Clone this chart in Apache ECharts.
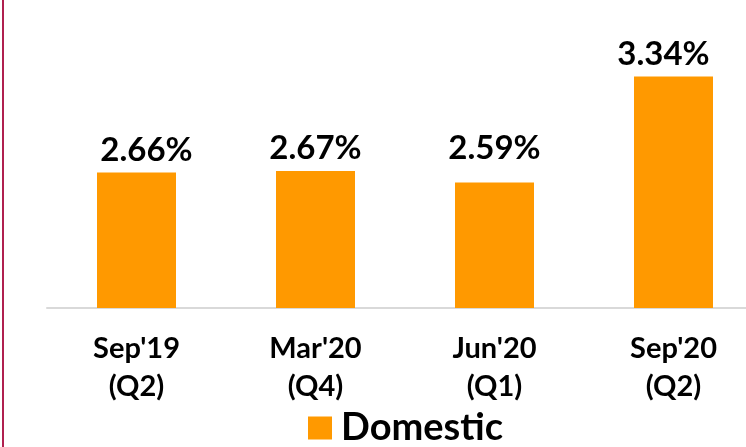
<!DOCTYPE html>
<html>
<head>
<meta charset="utf-8">
<script src="https://cdn.jsdelivr.net/npm/echarts@6/dist/echarts.min.js"></script>
<style>
    html, body { margin: 0; padding: 0; background: #fff; }
    #chart { width: 746px; height: 447px; }
</style>
</head>
<body>
<div id="chart"></div>
<script>
const categories = ["Sep'19\n(Q2)", "Mar'20\n(Q4)", "Jun'20\n(Q1)", "Sep'20\n(Q2)"];
const domestic = [2.66, 2.67, 2.59, 3.34];
// small nudges of the value labels, as in the source slide
const labelOffsets = [[10, 0], [0, 0], [0, -12], [-10, 0]];

const fontFamily = "Lato, 'Open Sans', sans-serif";

const chart = echarts.init(document.getElementById("chart"));

let option = {
    animation: false,
    backgroundColor: "#fff",
    grid: {left: 47, width: 716, top: 54, bottom: 139, outerBoundsMode: "none", containLabel: false},
    legend: {
        data: ["Domestic"],
        left: 303,
        top: 404,
        itemWidth: 24,
        itemHeight: 23,
        itemGap: 0,
        icon: "rect",
        textStyle: {fontFamily: fontFamily, fontSize: 38, fontWeight: "bold", color: "#000", padding: [0, 0, 0, 4]},
    },
    xAxis: {
        type: "category",
        data: categories,
        axisLine: {lineStyle: {color: "#d9d9d9", width: 2}},
        axisTick: {show: false},
        axisLabel: {
            margin: 22,
            fontFamily: fontFamily,
            fontSize: 29,
            fontWeight: "bold",
            color: "#000",
            lineHeight: 38,
        },
    },
    yAxis: {
        type: "value",
        min: 1.7,
        max: 3.5,
        show: false,
        splitLine: {show: false},
    },
    series: [
        {
            name: "Domestic",
            type: "bar",
            barWidth: 79,
            itemStyle: {color: "#ff9900"},
            data: domestic.map((v, i) => ({
                value: v,
                label: {offset: labelOffsets[i]},
            })),
            label: {
                show: true,
                position: "top",
                distance: 6,
                fontFamily: fontFamily,
                fontSize: 33,
                fontWeight: "bold",
                color: "#000",
                formatter: (p) => p.value.toFixed(2) + "%",
            },
        },
    ],
    graphic: [
        {
            type: "rect",
            shape: {x: 2, y: 0, width: 2, height: 447},
            style: {fill: "#b0204f"},
        },
    ],
};

chart.setOption(option);
</script>
</body>
</html>
